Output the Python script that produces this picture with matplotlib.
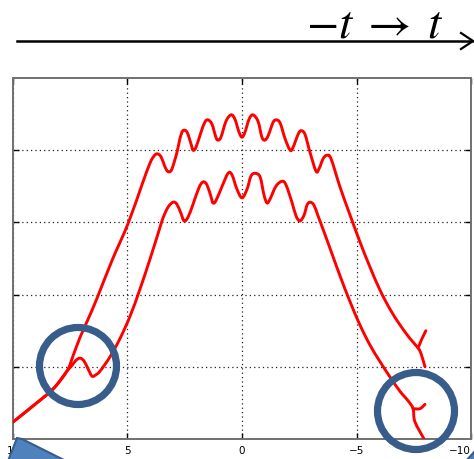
import matplotlib
matplotlib.use("Agg")
import matplotlib.pyplot as plt
import numpy as np
from matplotlib.patches import Circle, Polygon, PathPatch
from matplotlib.path import Path

plt.rcParams['mathtext.fontset'] = 'stix'

# shared stem at the lower left, both traces start here
stem_x = [10.0, 9.13, 8.25, 7.64]
stem_y = [0.235, 0.457, 0.693, 0.942]

# outer trace
outer_x = [7.38, 7.07, 6.72, 6.33, 5.68, 4.98, 4.37, 4.02, 3.84, 3.71, 3.54, 3.32,
           3.19, 3.06, 2.84, 2.71, 2.58, 2.40, 2.23, 2.14, 2.01, 1.79, 1.62, 1.48,
           1.31, 1.14, 1.05, 0.92, 0.70, 0.48, 0.31, 0.13, 0.0, -0.13, -0.31, -0.48,
           -0.70, -0.87, -1.00, -1.14, -1.35, -1.48, -1.66, -1.88, -2.10, -2.23,
           -2.45, -2.58, -2.75, -2.97, -3.23, -3.36, -3.54, -3.71, -3.89, -4.28,
           -4.72, -5.15, -5.59, -6.03, -6.46, -6.90, -7.34, -7.69, -7.82, -7.99]
outer_y = [1.15, 1.41, 1.66, 1.95, 2.47, 2.98, 3.52, 3.82, 3.92, 3.95, 3.91, 3.74,
           3.70, 3.74, 3.97, 4.16, 4.27, 4.25, 4.09, 4.00, 4.04, 4.25, 4.39, 4.42,
           4.36, 4.18, 4.14, 4.18, 4.40, 4.49, 4.43, 4.25, 4.18, 4.25, 4.43, 4.49,
           4.40, 4.18, 4.14, 4.20, 4.38, 4.42, 4.38, 4.16, 4.00, 4.04,
           4.22, 4.27, 4.22, 3.97, 3.71, 3.74, 3.88, 3.93, 3.88, 3.49,
           3.10, 2.73, 2.38, 2.06, 1.80, 1.58, 1.39, 1.26, 1.18, 1.00]
outer_spur_x = [-7.69, -7.86, -8.03]
outer_spur_y = [1.26, 1.39, 1.50]

# inner trace
inner_x = [7.42, 7.25, 7.07, 6.90, 6.72, 6.55, 6.38, 6.20, 5.76, 5.33, 4.89, 4.45,
           4.02, 3.67, 3.45, 3.23, 3.01, 2.84, 2.66, 2.53, 2.36, 2.14, 1.88, 1.70,
           1.53, 1.35, 1.27, 1.14, 0.87, 0.61, 0.44, 0.22, 0.0, -0.22, -0.39, -0.57,
           -0.79, -0.96, -1.09, -1.22, -1.48, -1.75, -1.92, -2.18, -2.36, -2.53,
           -2.71, -2.84, -2.97, -3.14, -3.32, -3.58, -3.89, -4.28, -4.72, -5.15,
           -5.59, -6.03, -6.46, -6.90, -7.25, -7.47, -7.55, -7.95]
inner_y = [1.02, 1.09, 1.12, 1.08, 0.97, 0.87, 0.89, 0.94, 1.14, 1.39, 1.70, 2.08,
           2.49, 2.84, 3.06, 3.21, 3.28, 3.25, 3.12, 3.02, 3.07, 3.25, 3.48, 3.56,
           3.52, 3.35, 3.27, 3.30, 3.50, 3.68, 3.66, 3.46, 3.34, 3.46, 3.64, 3.68,
           3.63, 3.38, 3.27, 3.32, 3.50, 3.57, 3.52, 3.28, 3.09, 3.02,
           3.10, 3.24, 3.28, 3.24, 3.09, 2.87, 2.60, 2.26, 1.90, 1.58,
           1.30, 1.07, 0.86, 0.66, 0.53, 0.42, 0.24, 0.0]
inner_spur_x = [-7.47, -7.77, -7.99]
inner_spur_y = [0.42, 0.42, 0.48]

x_ticks = [10, 5, 0, -5, -10]
y_ticks = [1, 2, 3, 4]


def smooth_path(xs, ys):
    # Catmull-Rom through the points, written as cubic Bezier segments
    p = np.column_stack([xs, ys])
    verts = [p[0]]
    codes = [Path.MOVETO]
    n = len(p)
    for i in range(n - 1):
        p0 = p[max(i - 1, 0)]
        p1, p2 = p[i], p[i + 1]
        p3 = p[min(i + 2, n - 1)]
        verts += [p1 + (p2 - p0) / 6, p2 - (p3 - p1) / 6, p2]
        codes += [Path.CURVE4] * 3
    return Path(verts, codes)


W, H = 474, 460
fig = plt.figure(figsize=(W / 100, H / 100), dpi=100)
ax = fig.add_axes([13 / W, 1 - 440 / H, 458 / W, 361 / H])

line_kw = dict(fill=False, ec='#ff0000', lw=2.1, capstyle='round', joinstyle='round',
               zorder=3)
for xs, ys in [(stem_x + outer_x, stem_y + outer_y),
               (stem_x + inner_x, stem_y + inner_y),
               (outer_spur_x, outer_spur_y),
               (inner_spur_x, inner_spur_y)]:
    ax.add_patch(PathPatch(smooth_path(xs, ys), **line_kw))

ax.set_xlim(10, -10)
ax.set_ylim(0, 5)
ax.set_xticks(x_ticks)
ax.set_yticks(y_ticks)
ax.set_yticklabels([])
ax.tick_params(direction='in', length=4, width=1, top=True, right=True,
               labelsize=7.5, pad=4, colors='black')
ax.get_xticklabels()[-1].set_ha('right')
ax.grid(True, color='#222222', linestyle=(0, (1, 2.5)), linewidth=0.9)
for sp in ax.spines.values():
    sp.set_color('#707070')
    sp.set_linewidth(1.4)

# overlay in pixel units for the arrow, label and highlight shapes
ov = fig.add_axes([0, 0, 1, 1], zorder=5)
ov.set_xlim(0, W)
ov.set_ylim(H, 0)
ov.axis('off')
ov.patch.set_alpha(0)

ov.plot([17, 472], [42, 42], color='black', lw=1.8)
ov.plot([461, 473, 461], [34, 42, 50], color='black', lw=1.6)
ov.text(375, 37, r'$-t\;\rightarrow\;t$', fontsize=34, ha='center', va='baseline')

ring = '#385d8a'
ov.add_patch(Circle((78, 367), 38.5, fill=False, ec=ring, lw=5.2))
ov.add_patch(Circle((416, 412), 38.5, fill=False, ec=ring, lw=5.2))
ov.add_patch(Polygon([(8, 462), (17, 439), (22, 440), (66, 462)], closed=True,
                     fc='#4f81bd', ec=ring, lw=1.5))
ov.add_patch(Polygon([(466, 462), (475, 452), (475, 462)], closed=True,
                     fc='#4f81bd', ec=ring, lw=1.5))

fig.savefig('out.png', dpi=100)
